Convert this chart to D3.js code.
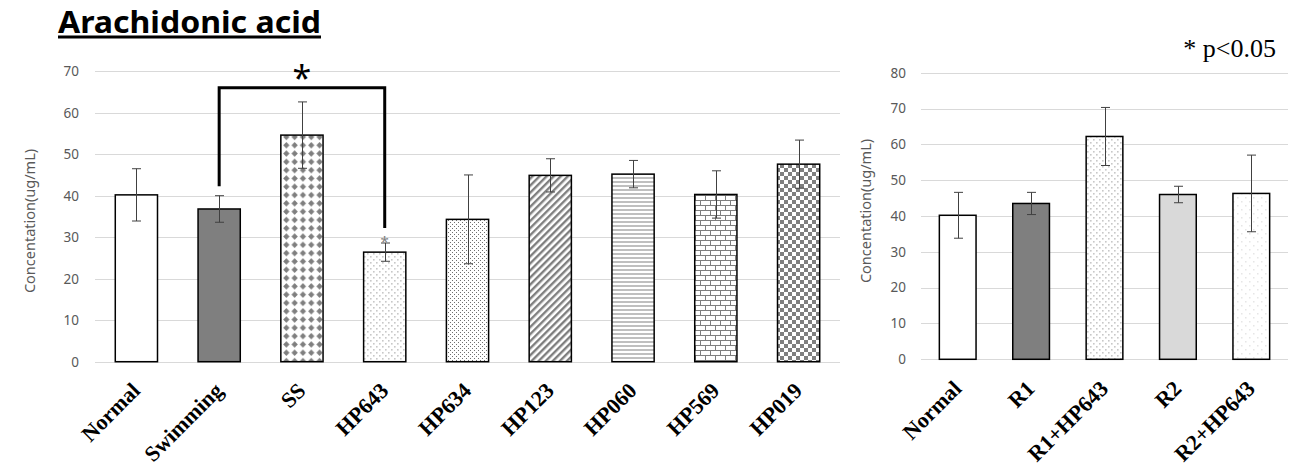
<!DOCTYPE html>
<html>
<head>
<meta charset="utf-8">
<script src="https://cdn.jsdelivr.net/npm/d3@7"></script>
<style>
  html, body { margin: 0; padding: 0; background: #ffffff; }
  svg { display: block; }
</style>
</head>
<body>
<script>
// ---------- DATA ----------
const leftCategories = ["Normal", "Swimming", "SS", "HP643", "HP634", "HP123", "HP060", "HP569", "HP019"];
const leftValues     = [40.2, 36.8, 54.6, 26.4, 34.3, 44.9, 45.2, 40.3, 47.6];
const leftErrors     = [6.3, 3.2, 8.0, 2.2, 10.7, 4.0, 3.3, 5.7, 5.8];
const leftTicks      = [0, 10, 20, 30, 40, 50, 60, 70];

const rightCategories = ["Normal", "R1", "R1+HP643", "R2", "R2+HP643"];
const rightValues     = [40.2, 43.5, 62.2, 46.0, 46.3];
const rightErrors     = [6.4, 3.1, 8.1, 2.3, 10.7];
const rightTicks      = [0, 10, 20, 30, 40, 50, 60, 70, 80];

// significance bracket (Swimming vs HP643), in data units
const sigFrom = "Swimming", sigTo = "HP643";
const sigLevels = [42.3, 66, 32.2];   // left leg end, top, right leg end
const sigMarkCategory = "HP643";
const sigMarkValue = 29.8;

const titleText = "Arachidonic acid";
const yTitle = "Concentation(ug/mL)";
const noteText = "* p<0.05";

// ---------- STYLES ----------
const leftFills  = ["#ffffff", "#7f7f7f", "url(#pSS)", "url(#pDotsSparse)", "url(#pDotsDense)",
                    "url(#pDiag)", "url(#pHLines)", "url(#pBrick)", "url(#pChecker)"];
const rightFills = ["#ffffff", "#7f7f7f", "url(#pDotsSparse)", "#d9d9d9", "url(#pDotsFaint)"];

const W = 1301, H = 474;
const svg = d3.select("body").append("svg").attr("width", W).attr("height", H);

// ---------- PATTERNS ----------
const defs = svg.append("defs");
function pattern(id, w, h, transform) {
  const p = defs.append("pattern").attr("id", id).attr("patternUnits", "userSpaceOnUse")
    .attr("width", w).attr("height", h);
  if (transform) p.attr("patternTransform", transform);
  p.append("rect").attr("width", w).attr("height", h).attr("fill", "#ffffff");
  return p;
}
const pg = "#7f7f7f";
{ const p = pattern("pSS", 8.3, 8.3);
  p.append("polygon").attr("points", "4.15,1 7.3,4.15 4.15,7.3 1,4.15").attr("fill", pg); }
{ const p = pattern("pDotsSparse", 6, 6);
  p.append("rect").attr("x", 1).attr("y", 1).attr("width", 1.6).attr("height", 1.6).attr("fill", "#c8c8c8");
  p.append("rect").attr("x", 4).attr("y", 4).attr("width", 1.6).attr("height", 1.6).attr("fill", "#c8c8c8"); }
{ const p = pattern("pDotsFaint", 8, 8);
  p.append("rect").attr("x", 1).attr("y", 1).attr("width", 1.5).attr("height", 1.5).attr("fill", "#e6e6e6");
  p.append("rect").attr("x", 5).attr("y", 5).attr("width", 1.5).attr("height", 1.5).attr("fill", "#e6e6e6"); }
{ const p = pattern("pDotsDense", 4, 4);
  p.append("rect").attr("x", 0).attr("y", 0).attr("width", 1).attr("height", 1).attr("fill", "#6f6f6f");
  p.append("rect").attr("x", 2).attr("y", 2).attr("width", 1).attr("height", 1).attr("fill", "#6f6f6f"); }
{ const p = pattern("pDiag", 5, 5, "rotate(45)");
  p.append("rect").attr("x", 0).attr("y", 0).attr("width", 2.4).attr("height", 5).attr("fill", pg); }
{ const p = pattern("pHLines", 4, 4);
  p.append("rect").attr("x", 0).attr("y", 1.5).attr("width", 4).attr("height", 1).attr("fill", pg); }
{ const p = pattern("pBrick", 10, 10);
  p.append("path").attr("d", "M0,0.5H10M0,5.5H10M0.5,0.5V5.5M5.5,5.5V10.5")
    .attr("stroke", pg).attr("stroke-width", 1).attr("fill", "none"); }
{ const p = pattern("pChecker", 8, 8);
  p.append("rect").attr("x", 0).attr("y", 0).attr("width", 4).attr("height", 4).attr("fill", pg);
  p.append("rect").attr("x", 4).attr("y", 4).attr("width", 4).attr("height", 4).attr("fill", pg); }

// ---------- CHART ----------
function drawChart(cfg) {
  const { cats, vals, errs, ticks, fills, xRange, yRange, yMax, tickX, titleX, titleY, labelY } = cfg;
  const x = d3.scaleBand().domain(cats).range(xRange).paddingInner(cfg.pad).paddingOuter(cfg.pad / 2);
  const y = d3.scaleLinear().domain([0, yMax]).range(yRange);
  const g = svg.append("g");

  g.selectAll("line.grid").data(ticks).join("line")
    .attr("x1", xRange[0]).attr("x2", xRange[1])
    .attr("y1", d => Math.round(y(d)) + 0.5).attr("y2", d => Math.round(y(d)) + 0.5)
    .attr("stroke", "#d9d9d9").attr("stroke-width", 1);

  const axis = d3.axisLeft(y).tickValues(ticks).tickSize(0).tickPadding(0);
  const ag = g.append("g").attr("transform", `translate(${tickX},0)`).call(axis);
  ag.select(".domain").remove();
  ag.selectAll("text").attr("font-family", "'Noto Sans', sans-serif").attr("font-size", 13.5)
    .attr("fill", "#595959");

  g.append("text").attr("transform", `translate(${titleX},${titleY}) rotate(-90)`)
    .attr("text-anchor", "middle").attr("font-family", "'Noto Sans', sans-serif")
    .attr("font-size", 14.5).attr("fill", "#595959").text(yTitle);

  g.selectAll("rect.bar").data(cats).join("rect")
    .attr("x", d => x(d)).attr("width", x.bandwidth())
    .attr("y", (d, i) => y(vals[i])).attr("height", (d, i) => y(0) - y(vals[i]))
    .attr("fill", (d, i) => fills[i]).attr("stroke", "#000000").attr("stroke-width", 1.5);

  const cap = 4.5;
  const eg = g.append("g").attr("stroke", "#404040").attr("stroke-width", 1).attr("fill", "none");
  cats.forEach((c, i) => {
    const cx = Math.round(x(c) + x.bandwidth() / 2) + 0.5;
    const yt = y(vals[i] + errs[i]), yb = y(vals[i] - errs[i]);
    eg.append("line").attr("x1", cx).attr("x2", cx).attr("y1", yt).attr("y2", yb);
    eg.append("line").attr("x1", cx - cap).attr("x2", cx + cap).attr("y1", yt).attr("y2", yt);
    eg.append("line").attr("x1", cx - cap).attr("x2", cx + cap).attr("y1", yb).attr("y2", yb);
  });

  g.selectAll("text.cat").data(cats).join("text")
    .attr("transform", d => `translate(${x(d) + x.bandwidth() / 2 + 5},${labelY}) rotate(-45)`)
    .attr("text-anchor", "end").attr("font-family", "'Liberation Serif', 'Times New Roman', serif")
    .attr("font-weight", "bold").attr("font-size", 22).attr("fill", "#000000").text(d => d);

  return { x, y, g };
}

const L = drawChart({
  cats: leftCategories, vals: leftValues, errs: leftErrors, ticks: leftTicks, fills: leftFills,
  xRange: [95, 840], yRange: [361.7, 71.2], yMax: 70, pad: 0.49,
  tickX: 79, titleX: 35, titleY: 221, labelY: 392
});
const R = drawChart({
  cats: rightCategories, vals: rightValues, errs: rightErrors, ticks: rightTicks, fills: rightFills,
  xRange: [921, 1288], yRange: [359.3, 72.7], yMax: 80, pad: 0.5,
  tickX: 906, titleX: 871, titleY: 211, labelY: 390
});

// significance bracket
{
  const cx1 = L.x(sigFrom) + L.x.bandwidth() / 2;
  const cx2 = L.x(sigTo) + L.x.bandwidth() / 2;
  const line = d3.line();
  L.g.append("path")
    .attr("d", line([[cx1, L.y(sigLevels[0])], [cx1, L.y(sigLevels[1])], [cx2, L.y(sigLevels[1])], [cx2, L.y(sigLevels[2])]]))
    .attr("fill", "none").attr("stroke", "#000000").attr("stroke-width", 3).attr("stroke-linejoin", "miter");
  L.g.append("text").attr("x", (cx1 + cx2) / 2).attr("y", L.y(sigLevels[1]) + 2)
    .attr("text-anchor", "middle").attr("font-family", "'Noto Sans', sans-serif")
    .attr("font-size", 34).attr("fill", "#000000").text("*");
  const cm = L.x(sigMarkCategory) + L.x.bandwidth() / 2;
  L.g.append("text").attr("x", cm).attr("y", L.y(sigMarkValue) + 9)
    .attr("text-anchor", "middle").attr("font-family", "'Noto Sans', sans-serif")
    .attr("font-size", 15).attr("fill", "#7f7f7f").text("*");
}

// title
svg.append("text").attr("x", 58).attr("y", 33)
  .attr("font-family", "'Noto Sans', sans-serif").attr("font-weight", "bold")
  .attr("font-size", 31).attr("fill", "#000000")
  .attr("textLength", 263).attr("lengthAdjust", "spacingAndGlyphs").text(titleText);
svg.append("rect").attr("x", 58).attr("y", 35.5).attr("width", 263).attr("height", 3).attr("fill", "#000000");

// note
svg.append("text").attr("x", 1276).attr("y", 57).attr("text-anchor", "end")
  .attr("font-family", "'Liberation Serif', 'Times New Roman', serif").attr("font-size", 26)
  .attr("fill", "#000000").text(noteText);
</script>
</body>
</html>
